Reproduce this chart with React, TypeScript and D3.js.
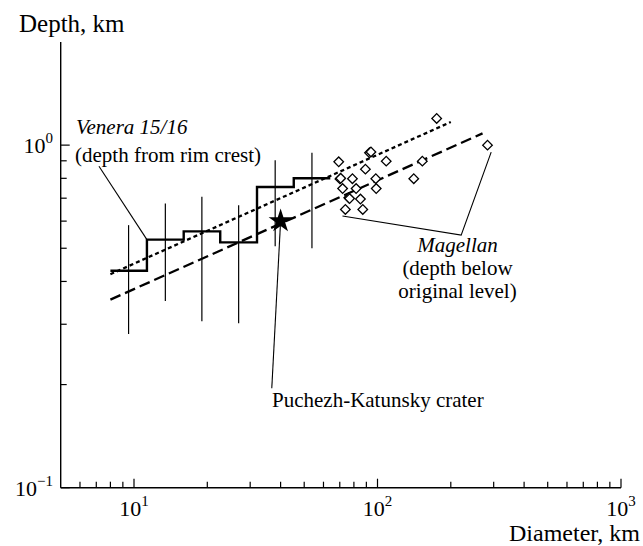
import React from "react";
import * as d3 from "d3";

// ---- data ----
const stepEdges = [8, 11.3, 16, 22.6, 32, 45.3, 64];
const stepDepths = [0.43, 0.53, 0.56, 0.52, 0.755, 0.8];

const barCenters = [9.5, 13.45, 19, 26.9, 38, 53.8];
const barLow = [0.281, 0.351, 0.306, 0.302, 0.507, 0.5];
const barHigh = [0.584, 0.676, 0.707, 0.668, 0.904, 0.95];

const veneraFitD = [8, 200];
const veneraFitH = [0.42, 1.168];
const magellanFitD = [8, 270];
const magellanFitH = [0.354, 1.082];

const magellanD = [175, 283, 92.7, 94, 69.3, 108.6, 152.8, 89.2, 70.1, 70.6, 78.9, 98.4, 140.9, 71.9, 81.7, 98.8, 76.2, 76.8, 85.1, 73.8, 87];
const magellanH = [1.196, 1.0, 0.95, 0.955, 0.894, 0.898, 0.898, 0.851, 0.797, 0.8, 0.798, 0.798, 0.798, 0.747, 0.747, 0.747, 0.702, 0.698, 0.696, 0.649, 0.649];

const puchezhD = 40;
const puchezhH = 0.6;

const xMinorTicks = [6, 7, 8, 9, 20, 30, 40, 50, 60, 70, 80, 90, 200, 300, 400, 500, 600, 700, 800, 900];
const xMajorTicks = [10, 100, 1000];
const xMajorExp = ["1", "2", "3"];
const yMinorTicks = [0.2, 0.3, 0.4, 0.5, 0.6, 0.7, 0.8, 0.9];
const yMajorTicks = [0.1, 1];
const yMajorExp = ["\u22121", "0"];

// annotation leader lines (data coordinates)
const veneraLeaderD = [7.18, 11.3];
const veneraLeaderH = [0.868, 0.53];
const puchezhLeaderD = [40, 36.8];
const puchezhLeaderH = [0.6, 0.195];
const magellanLeaderD = [71.8, 220.6, 293];
const magellanLeaderH = [0.621, 0.546, 0.954];

const FONT = "'Liberation Serif', 'Times New Roman', serif";

export default function App() {
  const x = d3.scaleLog().domain([5, 1000]).range([60.7, 621]);
  const y = d3.scaleLog().domain([0.1, 2]).range([487.7, 42]);

  const line = d3
    .line<[number, number]>()
    .x((d) => x(d[0]))
    .y((d) => y(d[1]));

  const stepPts: [number, number][] = [];
  stepDepths.forEach((h, i) => {
    stepPts.push([stepEdges[i], h]);
    stepPts.push([stepEdges[i + 1], h]);
  });

  const starPath = d3.symbol().type(d3.symbolStar).size(178)()!;
  const diamondPath = d3.symbol().type(d3.symbolSquare).size(46)()!;

  const x0 = x(5);
  const y0 = y(0.1);

  return (
    <svg
      width={643}
      height={546}
      style={{ position: "absolute", left: 0, top: 0, background: "#fff" }}
      fontFamily={FONT}
    >
      <rect x={0} y={0} width={643} height={546} fill="#fff" />
      {/* axes */}
      <line x1={x0} y1={y(2)} x2={x0} y2={y0} stroke="#000" strokeWidth={1.4} />
      <line x1={x0} y1={y0} x2={x(1000)} y2={y0} stroke="#000" strokeWidth={1.4} />
      {xMinorTicks.map((t) => (
        <line key={"xm" + t} x1={x(t)} x2={x(t)} y1={y0} y2={y0 - 6} stroke="#000" strokeWidth={1.2} />
      ))}
      {xMajorTicks.map((t, i) => (
        <g key={"xM" + t}>
          <line x1={x(t)} x2={x(t)} y1={y0} y2={y0 - 9} stroke="#000" strokeWidth={1.2} />
          <text x={x(t)} y={516} textAnchor="middle" fontSize={22}>
            10
            <tspan fontSize={15} dy={-10}>
              {xMajorExp[i]}
            </tspan>
          </text>
        </g>
      ))}
      {yMinorTicks.map((t) => (
        <line key={"ym" + t} x1={x0} x2={x0 + 6} y1={y(t)} y2={y(t)} stroke="#000" strokeWidth={1.2} />
      ))}
      {yMajorTicks.map((t, i) => (
        <g key={"yM" + t}>
          <line x1={x0} x2={x0 + 9} y1={y(t)} y2={y(t)} stroke="#000" strokeWidth={1.2} />
          <text x={53} y={y(t) + 8} textAnchor="end" fontSize={22}>
            10
            <tspan fontSize={15} dy={-10}>
              {yMajorExp[i]}
            </tspan>
          </text>
        </g>
      ))}
      <text x={19} y={32} fontSize={25}>
        Depth, km
      </text>
      <text x={640} y={541} fontSize={24} textAnchor="end">
        Diameter, km
      </text>

      {/* fit lines */}
      <path
        d={line(veneraFitD.map((d, i) => [d, veneraFitH[i]]) as [number, number][])!}
        fill="none"
        stroke="#000"
        strokeWidth={2.3}
        strokeDasharray="4 3"
      />
      <path
        d={line(magellanFitD.map((d, i) => [d, magellanFitH[i]]) as [number, number][])!}
        fill="none"
        stroke="#000"
        strokeWidth={2.3}
        strokeDasharray="11 5"
      />

      {/* error bars */}
      {barCenters.map((c, i) => (
        <line key={"eb" + i} x1={x(c)} x2={x(c)} y1={y(barHigh[i])} y2={y(barLow[i])} stroke="#000" strokeWidth={1.2} />
      ))}

      {/* step line */}
      <path d={line(stepPts)!} fill="none" stroke="#000" strokeWidth={2.4} />

      {/* Magellan diamonds */}
      {magellanD.map((d, i) => (
        <path
          key={"md" + i}
          d={diamondPath}
          transform={`translate(${x(d)},${y(magellanH[i])}) rotate(45)`}
          fill="#fff"
          stroke="#000"
          strokeWidth={1.3}
        />
      ))}

      {/* leader lines */}
      <path
        d={line(veneraLeaderD.map((d, i) => [d, veneraLeaderH[i]]) as [number, number][])!}
        fill="none"
        stroke="#000"
        strokeWidth={1.1}
      />
      <path
        d={line(puchezhLeaderD.map((d, i) => [d, puchezhLeaderH[i]]) as [number, number][])!}
        fill="none"
        stroke="#000"
        strokeWidth={1.1}
      />
      <path
        d={line(magellanLeaderD.map((d, i) => [d, magellanLeaderH[i]]) as [number, number][])!}
        fill="none"
        stroke="#000"
        strokeWidth={1.1}
      />

      {/* star */}
      <path d={starPath} transform={`translate(${x(puchezhD)},${y(puchezhH)})`} fill="#000" />

      {/* labels */}
      <text x={76} y={134} fontSize={21} fontStyle="italic">
        Venera 15/16
      </text>
      <text x={75} y={161.5} fontSize={21}>
        (depth from rim crest)
      </text>
      <text x={457.5} y={252} fontSize={21} fontStyle="italic" textAnchor="middle">
        Magellan
      </text>
      <text x={457.5} y={275} fontSize={21} textAnchor="middle">
        (depth below
      </text>
      <text x={457.5} y={298} fontSize={21} textAnchor="middle">
        original level)
      </text>
      <text x={272} y={407} fontSize={21}>
        Puchezh-Katunsky crater
      </text>
    </svg>
  );
}
